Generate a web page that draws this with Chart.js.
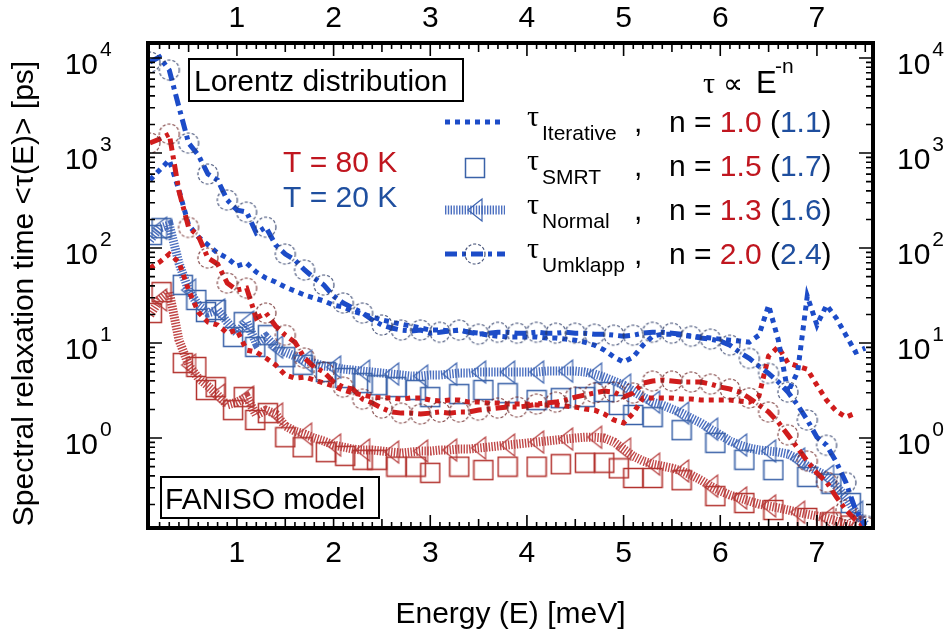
<!DOCTYPE html>
<html>
<head>
<meta charset="utf-8">
<script src="https://cdn.jsdelivr.net/npm/chart.js@4.4.1/dist/chart.umd.min.js"></script>
<style>
html, body { margin: 0; padding: 0; background: #fff; }
#wrap { width: 944px; height: 636px; }
</style>
</head>
<body>
<div id="wrap"><canvas id="tauChart" width="944" height="636"></canvas></div>
<script>
// energy grid [meV]
const energy = [
  0.1, 0.2, 0.3, 0.4, 0.5, 0.6, 0.7, 0.8, 0.9, 1.0,
  1.1, 1.2, 1.3, 1.4, 1.5, 1.6, 1.7, 1.8, 1.9, 2.0,
  2.1, 2.2, 2.3, 2.4, 2.5, 2.6, 2.7, 2.8, 2.9, 3.0,
  3.1, 3.2, 3.3, 3.4, 3.5, 3.6, 3.7, 3.8, 3.9, 4.0,
  4.1, 4.2, 4.3, 4.4, 4.5, 4.6, 4.7, 4.8, 4.9, 5.0,
  5.1, 5.2, 5.3, 5.4, 5.5, 5.6, 5.7, 5.8, 5.9, 6.0,
  6.1, 6.2, 6.3, 6.4, 6.5, 6.6, 6.7, 6.8, 6.9, 7.0,
  7.1, 7.2, 7.3, 7.4, 7.5
];

// spectral relaxation times [ps], T = 80 K
const iterative80 = [
  61.5, 71.2, 86.5, 71.2, 36.1, 21.2, 16.6, 15.5, 12.7, 13.7,
  8.44, 8.03, 6.95, 5.87, 4.61, 4.28, 4.38, 4.08, 3.79, 3.52,
  3.20, 2.98, 2.84, 2.70, 2.64, 2.64, 2.57, 2.64, 2.64, 2.51,
  2.45, 2.51, 2.51, 2.39, 2.39, 2.34, 2.34, 2.28, 2.28, 2.28,
  2.23, 2.23, 2.23, 2.17, 2.12, 2.02, 1.97, 1.79, 1.55, 1.44,
  1.83, 2.64, 2.64, 2.64, 2.64, 2.57, 2.57, 2.51, 2.51, 2.51,
  2.51, 2.45, 2.39, 2.77, 7.3, 9.1, 6.2, 5.7, 5.3, 3.6,
  2.5, 1.92, 1.66, 1.83, null
];
const umklapp80 = [
  1275, 1404, 1585, 400, 165, 135, 78.5, 67.9, 42.8, 36.1,
  37.9, 18.3, 20.7, 15.1, 12.1, 10.2, 6.95, 5.59, 4.95, 3.89,
  3.44, 3.28, 2.57, 2.34, 2.07, 1.88, 1.83, 1.83, 1.79, 1.83,
  1.88, 1.83, 1.88, 1.88, 1.97, 2.02, 2.07, 2.12, 2.12, 2.17,
  2.28, 2.34, 2.39, 2.51, 2.70, 2.84, 2.98, 3.12, 3.05, 2.70,
  2.98, 3.79, 3.98, 4.08, 3.98, 3.89, 3.89, 3.89, 3.70, 3.44,
  3.28, 3.05, 2.64, 2.23, 1.88, 1.47, 1.08, 0.785, 0.573, 0.428,
  0.344, 0.24, 0.175, 0.137, 0.116
];
const normal80 = [
  19.7, 28.4, 34.4, 10.8, 5.87, 4.28, 3.52, 2.84, 2.23, 2.39,
  2.70, 1.75, 1.97, 1.79, 1.34, 1.18, 1.10, 1.0, 0.93, 0.844,
  0.804, 0.766, 0.748, 0.748, 0.73, 0.712, 0.695, 0.712, 0.73, 0.73,
  0.748, 0.748, 0.766, 0.766, 0.785, 0.804, 0.824, 0.844, 0.865, 0.886,
  0.908, 0.93, 0.953, 0.976, 1.0, 1.02, 1.02, 1.0, 0.908, 0.766,
  0.646, 0.573, 0.532, 0.507, 0.483, 0.45, 0.408, 0.361, 0.312, 0.277,
  0.251, 0.234, 0.217, 0.202, 0.193, 0.184, 0.175, 0.166, 0.158, 0.151,
  0.144, 0.134, 0.124, 0.116, null
];

// spectral relaxation times [ps], T = 20 K
const iterative20 = [
  520, 662, 844, 408, 175, 131, 108, 88.6, 78.5, 64.7,
  69.5, 55.9, 48.3, 43.9, 38.8, 35.3, 32.0, 29.8, 27.7, 25.1,
  23.9, 21.7, 20.2, 18.8, 17.5, 16.6, 15.8, 15.1, 14.4, 13.7,
  13.7, 13.4, 13.7, 13.0, 12.7, 12.1, 11.8, 11.6, 11.6, 11.6,
  11.6, 11.3, 11.3, 11.0, 10.7, 10.2, 9.5, 8.44, 7.13, 6.31,
  7.13, 9.5, 11.8, 12.4, 12.4, 12.1, 11.8, 11.6, 11.3, 11.0,
  10.7, 10.5, 10.2, 12.1, 25.0, 10.8, 3.05, 4.95, 31.2, 15.5,
  25.1, 18.3, 12.1, 8.03, 8.85
];
const umklapp20 = [
  9080, 10250, 7480, 3050, 1275, 953, 601, 520, 320, 251,
  239, 144, 166, 108, 86.5, 74.8, 58.7, 48.3, 40.8, 31.2,
  26.4, 23.4, 20.7, 17.5, 15.5, 14.4, 13.7, 13.4, 13.7, 12.7,
  13.0, 13.4, 13.7, 13.0, 12.4, 12.7, 13.0, 13.0, 12.7, 12.7,
  13.0, 12.7, 12.7, 13.0, 12.7, 12.7, 12.4, 12.4, 12.1, 11.8,
  12.1, 12.7, 13.0, 13.0, 12.7, 12.4, 11.8, 11.3, 11.0, 10.5,
  9.5, 8.0, 6.9, 5.7, 4.8, 3.9, 3.05, 2.23, 1.55, 1.02,
  0.84, 0.56, 0.34, 0.175, 0.12
];
const normal20 = [
  121, 162, 175, 69.5, 36.1, 25.1, 20.7, 22.3, 16.6, 12.7,
  16.6, 10.0, 11.6, 9.06, 8.03, 7.29, 6.46, 6.16, 5.73, 5.59,
  5.32, 5.20, 5.07, 4.95, 4.83, 4.72, 4.61, 4.49, 4.49, 4.61,
  4.61, 4.72, 4.83, 4.83, 4.95, 4.95, 4.95, 4.95, 4.95, 4.95,
  4.95, 5.07, 5.07, 5.07, 5.07, 4.95, 4.72, 4.38, 3.98, 3.61,
  3.12, 2.70, 2.39, 2.23, 2.02, 1.83, 1.62, 1.44, 1.24, 1.08,
  0.93, 0.844, 0.785, 0.748, 0.73, 0.712, 0.679, 0.601, 0.507, 0.45,
  0.398, 0.312, 0.24, 0.166, 0.124
];

// SMRT points sit on their own energy bins
const energySmrt = [
  0.12, 0.22, 0.44, 0.58, 0.68, 0.78, 0.96, 1.07, 1.19, 1.32,
  1.5, 1.68, 1.92, 2.12, 2.3, 2.45, 2.65, 2.85, 3.0, 3.3,
  3.55, 3.8, 4.1, 4.35, 4.6, 4.8, 4.95, 5.1, 5.3, 5.6,
  5.95, 6.25, 6.55, 6.9, 7.15, 7.35
];
const smrt80 = [
  20.7, 34.4, 6.16, 5.6, 3.2, 3.44, 1.97, 2.7, 1.55, 1.83,
  1.02, 0.80, 0.71, 0.65, 0.59, 0.59, 0.50, 0.50, 0.43, 0.50,
  0.46, 0.50, 0.50, 0.53, 0.55, 0.55, 0.48, 0.38, 0.38, 0.36,
  0.245, 0.207, 0.175, 0.144, 0.13, 0.12
];
const smrt20 = [
  137, 162, 41, 28.4, 21.2, 22.3, 11.6, 16.6, 9.1, 12.1,
  7.1, 5.9, 4.95, 4.28, 3.79, 3.6, 3.44, 3.2, 2.7, 2.9,
  3.2, 2.97, 2.51, 2.63, 2.7, 3.05, 2.23, 1.75, 1.66, 1.21,
  0.89, 0.59, 0.46, 0.39, 0.33, 0.207
];

// power-law fits tau ~ E^-n
const methods = ['Iterative', 'SMRT', 'Normal', 'Umklapp'];
const fitN80 = ['1.0', '1.5', '1.3', '2.0'];
const fitN20 = ['1.1', '1.7', '1.6', '2.4'];

const decadeExponents = [0, 1, 2, 3, 4];

const SANS = "'Liberation Sans', Arial, sans-serif";
const SERIF = "'Liberation Serif', 'DejaVu Serif', serif";
const RED = '#d01c1c';
const BLUE = '#1c4cc8';
const RED_TXT = '#c0161f';
const BLUE_TXT = '#1f4f9f';

function markerCanvas(w, h, paint) {
  const c = document.createElement('canvas');
  c.width = w;
  c.height = h;
  paint(c.getContext('2d'));
  return c;
}

function dashedCircle(color) {
  return markerCanvas(24, 24, g => {
    g.strokeStyle = color;
    g.lineWidth = 1.2;
    g.setLineDash([3, 2]);
    g.beginPath();
    g.arc(12, 12, 10, 0, Math.PI * 2);
    g.stroke();
  });
}

function openSquare(color) {
  return markerCanvas(22, 22, g => {
    g.strokeStyle = color;
    g.lineWidth = 1.5;
    g.strokeRect(1.5, 1.5, 19, 19);
  });
}

function leftTriangle(color) {
  return markerCanvas(18, 26, g => {
    g.strokeStyle = color;
    g.lineWidth = 1.2;
    g.beginPath();
    g.moveTo(2, 13);
    g.lineTo(16, 2);
    g.lineTo(16, 24);
    g.closePath();
    g.stroke();
  });
}

const circleRed = dashedCircle('rgba(110,40,40,0.85)');
const circleBlue = dashedCircle('rgba(40,55,100,0.85)');
const squareRed = openSquare('#b3332f');
const squareBlue = openSquare('#3a62a8');
const triRed = leftTriangle('#b84040');
const triBlue = leftTriangle('#3c63b0');

function points(xs, ys) {
  return xs.map((x, i) => ({ x: x, y: ys[i] })).filter(p => p.y !== null);
}

const HATCH = [1.4, 1.4];
const DOTS = [5, 5];
const DASHDOT = [12, 5, 4, 5];

const datasets = [
  {
    data: points(energy, umklapp20), borderColor: BLUE, borderWidth: 5,
    borderDash: DASHDOT, pointStyle: circleBlue,
    pointRadius: c => (c.dataIndex % 2 === 0 ? 10 : 0)
  },
  {
    data: points(energy, umklapp80), borderColor: RED, borderWidth: 5,
    borderDash: DASHDOT, pointStyle: circleRed,
    pointRadius: c => (c.dataIndex % 2 === 0 ? 10 : 0)
  },
  {
    data: points(energy, iterative20), borderColor: BLUE, borderWidth: 5,
    borderDash: DOTS, pointRadius: 0
  },
  {
    data: points(energy, iterative80), borderColor: RED, borderWidth: 5,
    borderDash: DOTS, pointRadius: 0
  },
  {
    data: points(energySmrt, smrt20), showLine: false,
    pointStyle: squareBlue, pointRadius: 10
  },
  {
    data: points(energySmrt, smrt80), showLine: false,
    pointStyle: squareRed, pointRadius: 10
  },
  {
    data: points(energy, normal20), borderColor: 'rgba(55,95,185,0.9)', borderWidth: 9,
    borderDash: HATCH, pointStyle: triBlue,
    pointRadius: c => (c.dataIndex % 3 === 1 ? 10 : 0)
  },
  {
    data: points(energy, normal80), borderColor: 'rgba(185,50,50,0.9)', borderWidth: 9,
    borderDash: HATCH, pointStyle: triRed,
    pointRadius: c => (c.dataIndex % 3 === 1 ? 10 : 0)
  }
];

function text(ctx, str, x, y, font, color, align) {
  ctx.font = font;
  ctx.fillStyle = color;
  ctx.textAlign = align || 'left';
  ctx.fillText(str, x, y);
  return x + ctx.measureText(str).width;
}

// frame, inward ticks, decade labels, titles and annotations
const decorations = {
  id: 'decorations',
  afterDatasetsDraw(chart) {
    const ctx = chart.ctx;
    const a = chart.chartArea;
    const xs = chart.scales.x;
    const ys = chart.scales.y;
    ctx.save();
    ctx.textBaseline = 'alphabetic';

    // ticks on all four sides
    ctx.strokeStyle = '#000';
    ctx.lineWidth = 1.6;
    ctx.beginPath();
    for (let i = 1; i <= 76; i++) {
      const px = xs.getPixelForValue(i / 10);
      if (px < a.left + 2 || px > a.right - 2) continue;
      const len = i % 10 === 0 ? 13 : (i % 5 === 0 ? 9 : 6);
      ctx.moveTo(px, a.bottom);
      ctx.lineTo(px, a.bottom - len);
      ctx.moveTo(px, a.top);
      ctx.lineTo(px, a.top + len);
    }
    for (let e = -1; e <= 4; e++) {
      for (let k = 1; k <= 9; k++) {
        const v = k * Math.pow(10, e);
        if (v < ys.min || v > ys.max) continue;
        const py = ys.getPixelForValue(v);
        const len = k === 1 ? 14 : 7;
        ctx.moveTo(a.left, py);
        ctx.lineTo(a.left + len, py);
        ctx.moveTo(a.right, py);
        ctx.lineTo(a.right - len, py);
      }
    }
    ctx.stroke();
    ctx.lineWidth = 4;
    ctx.strokeRect(a.left, a.top, a.right - a.left, a.bottom - a.top);

    // decade labels 10^n on both sides
    decadeExponents.forEach(n => {
      const py = ys.getPixelForValue(Math.pow(10, n));
      text(ctx, '10', 98, py + 16, '30px ' + SANS, '#000', 'right');
      text(ctx, String(n), 100, py - 2, '21px ' + SANS, '#000');
      const r = text(ctx, '10', 897, py + 16, '30px ' + SANS, '#000');
      text(ctx, String(n), r + 2, py - 2, '21px ' + SANS, '#000');
    });

    // axis titles
    text(ctx, 'Energy (E) [meV]', (a.left + a.right) / 2, 623, '30px ' + SANS, '#000', 'center');
    ctx.save();
    ctx.translate(33, (a.top + a.bottom) / 2 + 8);
    ctx.rotate(-Math.PI / 2);
    text(ctx, 'Spectral relaxation time <τ(E)> [ps]', 0, 0, '30px ' + SANS, '#000', 'center');
    ctx.restore();

    // boxed captions
    ctx.lineWidth = 2;
    ctx.fillStyle = '#fff';
    ctx.fillRect(189, 59, 274, 42);
    ctx.strokeRect(189, 59, 274, 42);
    text(ctx, 'Lorentz distribution', 194, 91, '30px ' + SANS, '#000');
    ctx.fillStyle = '#fff';
    ctx.fillRect(161, 477, 218, 41);
    ctx.strokeRect(161, 477, 218, 41);
    text(ctx, 'FANISO model', 165, 509, '30px ' + SANS, '#000');

    // temperatures
    text(ctx, 'T = 80 K', 283, 172, '30px ' + SANS, RED_TXT);
    text(ctx, 'T = 20 K', 283, 207, '30px ' + SANS, BLUE_TXT);

    // power-law header
    text(ctx, 'τ', 703, 93, '30px ' + SERIF, '#000');
    text(ctx, '∝', 723, 93, '28px ' + SANS, '#000');
    text(ctx, 'E', 756, 93, '31px ' + SANS, '#000');
    text(ctx, '-n', 775, 73, '21px ' + SANS, '#000');

    // legend rows
    methods.forEach((name, k) => {
      const base = 132 + 44 * k;
      const ly = base - 10;
      ctx.save();
      ctx.lineCap = 'butt';
      if (k === 0) {
        ctx.strokeStyle = BLUE;
        ctx.lineWidth = 5;
        ctx.setLineDash(DOTS);
        ctx.beginPath(); ctx.moveTo(445, ly); ctx.lineTo(505, ly); ctx.stroke();
      } else if (k === 1) {
        ctx.drawImage(squareBlue, 475 - 11, base - 8 - 11);
      } else if (k === 2) {
        ctx.strokeStyle = 'rgba(55,95,185,0.9)';
        ctx.lineWidth = 9;
        ctx.setLineDash(HATCH);
        ctx.beginPath(); ctx.moveTo(445, ly); ctx.lineTo(505, ly); ctx.stroke();
        ctx.drawImage(triBlue, 475 - 9, ly - 13);
      } else {
        ctx.strokeStyle = BLUE;
        ctx.lineWidth = 5;
        ctx.setLineDash(DASHDOT);
        ctx.beginPath(); ctx.moveTo(445, ly); ctx.lineTo(505, ly); ctx.stroke();
        ctx.drawImage(circleBlue, 475 - 12, ly - 12);
      }
      ctx.restore();

      text(ctx, 'τ', 527, base - 6, '30px ' + SERIF, '#000');
      text(ctx, name, 542, base + 8, '21px ' + SANS, '#000');
      text(ctx, ',', 634, base, '30px ' + SANS, '#000');
      let x = text(ctx, 'n = ', 669, base, '30px ' + SANS, '#000');
      x = text(ctx, fitN80[k], x, base, '30px ' + SANS, RED_TXT);
      x = text(ctx, ' (', x, base, '30px ' + SANS, '#000');
      x = text(ctx, fitN20[k], x, base, '30px ' + SANS, BLUE_TXT);
      text(ctx, ')', x, base, '30px ' + SANS, '#000');
    });

    ctx.restore();
  }
};

const xTicks = {
  stepSize: 1, includeBounds: false, autoSkip: false, maxRotation: 0,
  color: '#000', font: { family: SANS, size: 30 }
};

new Chart(document.getElementById('tauChart'), {
  type: 'line',
  data: { datasets: datasets },
  options: {
    responsive: false,
    animation: false,
    devicePixelRatio: 1,
    events: [],
    layout: { padding: 0 },
    elements: {
      line: { tension: 0, fill: false, borderCapStyle: 'butt' },
      point: { borderWidth: 0 }
    },
    plugins: { legend: { display: false }, tooltip: { enabled: false } },
    scales: {
      x: {
        type: 'linear', position: 'bottom', min: 0.08, max: 7.58,
        ticks: Object.assign({ padding: 8 }, xTicks),
        grid: { display: false, drawTicks: false }, border: { display: false },
        afterFit(s) { s.height = 108; }
      },
      xTop: {
        type: 'linear', position: 'top', min: 0.08, max: 7.58,
        ticks: Object.assign({ padding: 6 }, xTicks),
        grid: { display: false, drawTicks: false }, border: { display: false },
        afterFit(s) { s.height = 43; }
      },
      y: {
        type: 'logarithmic', position: 'left', min: 0.113, max: 14400,
        ticks: { display: false },
        grid: { display: false, drawTicks: false }, border: { display: false },
        afterFit(s) { s.width = 148; }
      },
      yRight: {
        type: 'logarithmic', position: 'right', min: 0.113, max: 14400,
        ticks: { display: false },
        grid: { display: false, drawTicks: false }, border: { display: false },
        afterFit(s) { s.width = 71; }
      }
    }
  },
  plugins: [decorations]
});
</script>
</body>
</html>
